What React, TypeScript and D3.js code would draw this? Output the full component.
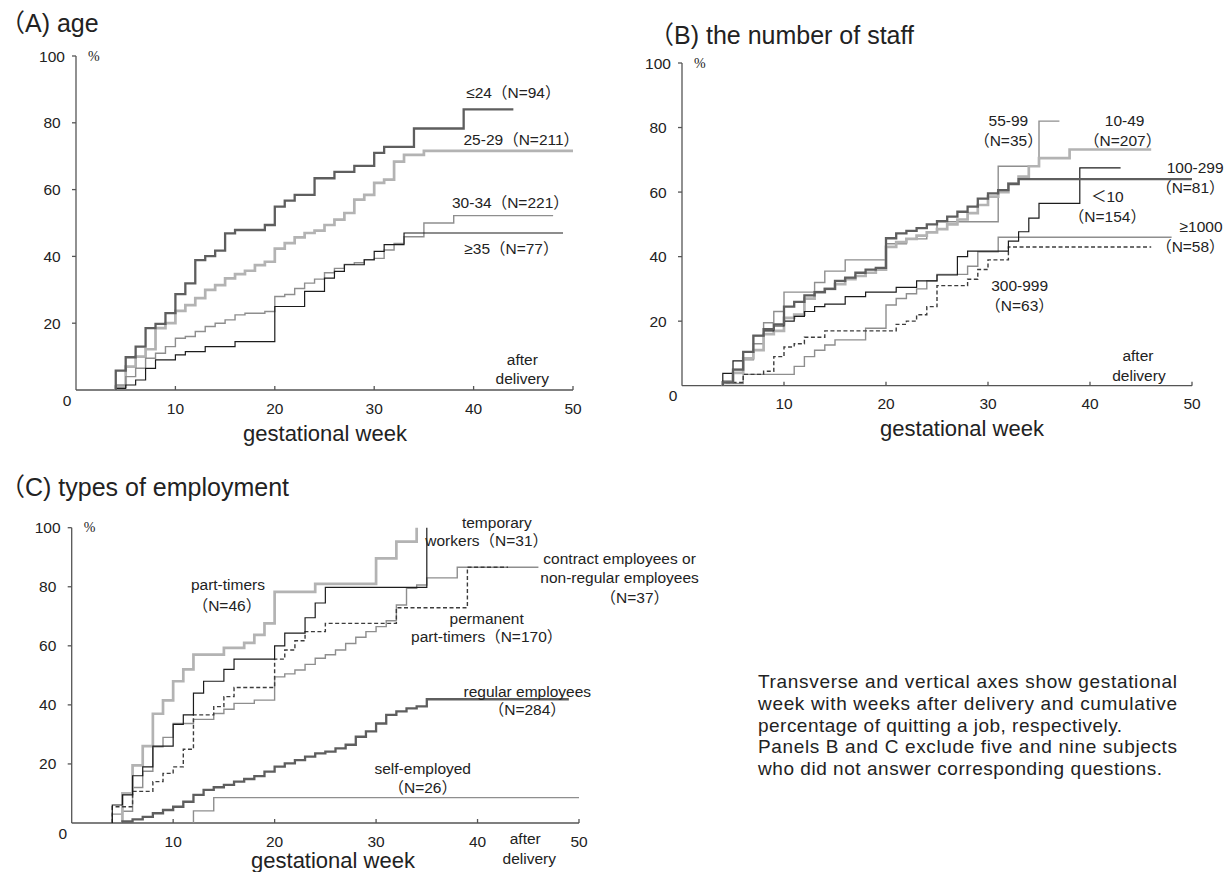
import React from 'react'
import * as d3 from 'd3'

// ---- data (week, cumulative %) : value jumps to % at that week ----
const ageLe24 = [[4, 5.8], [5, 9.8], [6, 13], [7, 18.5], [8, 19.8], [9, 23], [10, 28.7], [11, 31.9], [12, 38.9], [13, 40.1], [14, 41.7], [15, 46.9], [16, 47.9], [19, 49.4], [20, 54.9], [21, 56.7], [22, 58.4], [24, 63.4], [26, 65.3], [28, 67.1], [30, 71], [31, 72.8], [34, 78.3], [39, 84], [44, 84]]
const age25to29 = [[4, 1], [5, 7], [6, 10], [7, 12.2], [8, 18.5], [9, 20], [10, 23.7], [11, 25.4], [12, 27.5], [13, 30], [14, 31.4], [15, 33.4], [16, 34.7], [17, 35.7], [18, 37.4], [19, 38.4], [20, 42.3], [21, 44], [22, 45.7], [23, 47], [24, 47.7], [25, 49.4], [26, 51], [27, 53], [28, 57], [29, 58.4], [30, 62], [31, 63], [32, 68.4], [33, 70.4], [35, 71.6], [50, 71.6]]
const age30to34 = [[4, 1.5], [5, 4], [6, 6.5], [7, 9.5], [8, 11], [9, 13], [10, 15.5], [11, 16], [12, 17.5], [13, 19], [14, 20], [15, 21], [16, 22.5], [17, 23], [19, 23.5], [20, 28], [21, 28.6], [22, 30.4], [23, 32], [24, 33.2], [25, 35.1], [26, 36.4], [27, 37.6], [28, 38.1], [29, 39], [30, 39.4], [31, 41.9], [32, 43.9], [33, 45.9], [35, 50], [38, 52.2], [48, 52.2]]
const ageGe35 = [[4, 0.5], [5, 1.5], [6, 3], [7, 6.5], [8, 9], [10, 10.5], [11, 11.5], [13, 13], [16, 14.5], [20, 25], [23, 29.5], [25, 33.5], [26, 35.5], [27, 37.5], [29, 39], [30, 41.5], [31, 43.5], [33, 47], [49, 47]]

const staff55to99 = [[4, 1.5], [5, 5], [6, 8], [7, 13], [8, 19.5], [9, 23], [10, 29], [13, 32], [14, 35.5], [16, 39], [20, 44], [22, 45.5], [24, 47.5], [25, 50.8], [31, 68], [35, 82], [37, 82]]
const staff10to49 = [[4, 1], [5, 4], [6, 8.5], [7, 11], [8, 16], [9, 17], [10, 21], [11, 22], [12, 27], [13, 29], [14, 30], [15, 31.5], [16, 33], [17, 34], [18, 35], [19, 36], [20, 43], [21, 44.5], [22, 45.5], [23, 46.5], [24, 47.5], [25, 48.5], [26, 50], [27, 51.5], [28, 53.5], [29, 56], [30, 58.6], [31, 60], [32, 62.7], [33, 64.8], [34, 68], [35, 70.5], [38, 73.2], [46, 73.2]]
const staff100to299 = [[4, 1], [5, 5], [6, 10.5], [7, 15.5], [8, 17.5], [9, 19], [10, 24.5], [11, 26], [12, 28], [13, 29], [14, 30], [15, 32.5], [16, 33.5], [17, 35], [18, 36], [19, 36.5], [20, 45.7], [21, 47.2], [22, 48], [23, 48.8], [24, 50], [25, 51], [26, 52.4], [27, 53.9], [28, 55.5], [29, 58], [30, 59.6], [31, 60.6], [32, 62.5], [33, 64], [50, 64]]
const staffLt10 = [[4, 3.8], [5, 7.7], [6, 10.5], [7, 15.5], [8, 17], [9, 18.5], [10, 20], [11, 21.5], [12, 23], [13, 24.5], [14, 25.3], [16, 27.6], [18, 29], [21, 30.5], [23, 32.5], [25, 34.3], [27, 40], [28, 41.7], [32, 44.8], [33, 47.7], [34, 51.9], [35, 56.5], [39, 67.5], [43, 67.5]]
const staffGe1000 = [[4, 0.7], [6, 3.5], [11, 6], [12, 9], [13, 11], [14, 12.6], [15, 14.2], [18, 17.8], [20, 25], [21, 27], [22, 28.5], [23, 30], [24, 32.5], [25, 34.5], [28, 37], [29, 41.5], [31, 46], [48, 46]]
const staff300to999 = [[4, 1], [6, 3.5], [8, 4.5], [9, 9], [10, 12], [11, 13], [12, 15], [14, 17], [21, 19], [22, 20], [23, 22], [24, 24.5], [25, 31], [28, 33], [29, 36], [30, 39], [32, 43], [46, 43]]

const empPartTimers = [[5, 10], [6, 19.5], [7, 26], [8, 37], [9, 41.5], [10, 48], [11, 52], [12, 57], [15, 59.3], [17, 61], [18, 63.7], [19, 67.6], [20, 78.3], [24, 81], [30, 89.6], [32, 95.3], [34, 100]]
const empTemporary = [[4, 6.1], [5, 9.5], [6, 16], [7, 19], [8, 26], [10, 33.4], [11, 36.6], [12, 44], [13, 48], [15, 52], [16, 55.5], [20, 60], [21, 64.3], [23, 69.5], [24, 74.5], [25, 79.8], [35, 100]]
const empContract = [[4, 3], [5, 4], [6, 12], [7, 17.5], [8, 25.8], [9, 29], [10, 33.7], [12, 35.1], [14, 37.1], [15, 38.5], [16, 40.5], [18, 41.6], [20, 49.5], [21, 50.5], [22, 51.8], [23, 53.7], [24, 55.8], [25, 57], [26, 58.6], [27, 60.8], [28, 62.9], [29, 64.8], [30, 66.5], [31, 68.5], [32, 73.8], [33, 79.5], [34, 80.6], [35, 83], [38, 86.6], [46, 86.6]]
const empPermanentPT = [[4, 5.5], [6, 10.7], [8, 14], [9, 16.8], [10, 19], [11, 25], [12, 36.6], [14, 39.4], [15, 42.8], [16, 45.9], [20, 55.5], [21, 58.6], [22, 61.7], [23, 64.8], [25, 67.6], [32, 72.9], [39, 86.6], [43, 86.6]]
const empRegular = [[5, 0.5], [6, 1.2], [7, 2.1], [8, 3.3], [9, 4.4], [10, 5.5], [11, 7.2], [12, 9.5], [13, 11.2], [14, 12.1], [15, 12.9], [16, 14], [17, 14.9], [18, 15.9], [19, 17.4], [20, 19.1], [21, 20.2], [22, 21.3], [23, 22.5], [24, 23.6], [25, 24.2], [26, 25.3], [27, 26.5], [28, 29.2], [29, 31], [30, 33.7], [31, 36.6], [32, 37.8], [33, 38.8], [34, 39.5], [35, 41.9], [49, 41.9]]
const empSelf = [[12, 4.1], [14, 8.6], [50, 8.6]]

const weekTicks = [10, 20, 30, 40, 50]
const pctTicks = [20, 40, 60, 80, 100]

const noteLines = [
  'Transverse and vertical axes show gestational',
  'week with weeks after delivery and cumulative',
  'percentage of quitting a job, respectively.',
  'Panels B and C exclude five and nine subjects',
  'who did not answer corresponding questions.',
]
const noteWidths = [419, 419, 364, 419, 404]

// ---- styles ----
const FONT = "'Liberation Sans', Arial, 'Noto Sans CJK JP', sans-serif"
const STYLES: Record<string, { stroke: string; width: number; dash?: string }> = {
  dark: { stroke: '#5e5e5e', width: 2.3 },
  light: { stroke: '#b3b3b3', width: 2.7 },
  mid: { stroke: '#8e8e8e', width: 1.4 },
  black: { stroke: '#1c1c1c', width: 1.2 },
  dashed: { stroke: '#3c3c3c', width: 1.4, dash: '4 2.5' },
}

type Series = { data: number[][]; style: string }
type Label = { text: string; week: number; pct: number; anchor?: string }

interface PanelProps {
  title: string
  titleX: number
  titleY: number
  left: number
  right: number
  top: number
  bottom: number
  xTitleX: number
  xTitleY: number
  series: Series[]
  labels: Label[]
}

function Panel(p: PanelProps) {
  const x = d3.scaleLinear().domain([0, 50]).range([p.left, p.right])
  const y = d3.scaleLinear().domain([0, 100]).range([p.bottom, p.top])
  const line = d3
    .line<number[]>()
    .x(d => x(d[0]))
    .y(d => y(d[1]))
    .curve(d3.curveStepAfter)

  return (
    <g fontFamily={FONT} fill="#222">
      <text x={p.titleX} y={p.titleY} fontSize={25} dominantBaseline="central">{p.title}</text>

      {/* axes */}
      <g stroke="#555" strokeWidth={1.3} fill="none">
        <line x1={x(0)} x2={x(0)} y1={y(0)} y2={y(100)} />
        <line x1={x(0)} x2={x(50)} y1={y(0)} y2={y(0)} />
        {pctTicks.map(t => <line key={t} x1={x(0) - 4} x2={x(0)} y1={y(t)} y2={y(t)} />)}
        {weekTicks.map(t => <line key={t} x1={x(t)} x2={x(t)} y1={y(0)} y2={y(0) - 4} />)}
      </g>
      <g fontSize={15.5} textAnchor="middle" dominantBaseline="central">
        {pctTicks.map(t => <text key={t} x={x(0) - 24} y={y(t)}>{t}</text>)}
        {weekTicks.map(t => <text key={t} x={x(t)} y={y(0) + 18}>{t}</text>)}
        <text x={x(0) - 9} y={y(0) + 10}>0</text>
      </g>
      <text x={x(0) + 12} y={y(100)} fontSize={14} fontFamily="'Liberation Serif', serif" dominantBaseline="central">%</text>
      <text x={p.xTitleX} y={p.xTitleY} fontSize={22} textAnchor="middle" dominantBaseline="central">gestational week</text>

      {/* step curves */}
      {p.series.map((s, i) => {
        const st = STYLES[s.style]
        const pts = [[s.data[0][0], 0], ...s.data]
        return (
          <path key={i} d={line(pts) || ''} fill="none" stroke={st.stroke} strokeWidth={st.width}
            strokeDasharray={st.dash} />
        )
      })}

      <g fontSize={15.5} dominantBaseline="central">
        {p.labels.map((l, i) => (
          <text key={i} x={x(l.week)} y={y(l.pct)} textAnchor={l.anchor || 'middle'}>{l.text}</text>
        ))}
      </g>
    </g>
  )
}

export default function App() {
  return (
    <svg width={1226} height={872} style={{ position: 'absolute', left: 0, top: 0, background: '#fff' }}>
      <Panel
        title="（A) age" titleX={0} titleY={23}
        left={76} right={573} top={56} bottom={390}
        xTitleX={325} xTitleY={433}
        series={[
          { data: age25to29, style: 'light' },
          { data: age30to34, style: 'mid' },
          { data: ageGe35, style: 'black' },
          { data: ageLe24, style: 'dark' },
        ]}
        labels={[
          { text: '≤24（N=94）', week: 44, pct: 89.2 },
          { text: '25-29（N=211）', week: 44.8, pct: 74.9 },
          { text: '30-34（N=221）', week: 43.7, pct: 56 },
          { text: '≥35（N=77）', week: 43.8, pct: 42.5 },
          { text: 'after', week: 44.9, pct: 9 },
          { text: 'delivery', week: 44.9, pct: 3.3 },
        ]}
      />
      <Panel
        title="（B) the number of staff" titleX={649} titleY={35}
        left={682} right={1192} top={63} bottom={385.7}
        xTitleX={962} xTitleY={428}
        series={[
          { data: staff55to99, style: 'mid' },
          { data: staffGe1000, style: 'mid' },
          { data: staff10to49, style: 'light' },
          { data: staff300to999, style: 'dashed' },
          { data: staffLt10, style: 'black' },
          { data: staff100to299, style: 'dark' },
        ]}
        labels={[
          { text: '55-99', week: 32, pct: 82.3 },
          { text: '（N=35）', week: 32, pct: 76.1 },
          { text: '10-49', week: 43.4, pct: 82.3 },
          { text: '（N=207）', week: 43.2, pct: 76.1 },
          { text: '100-299', week: 53.1, pct: 67.5, anchor: 'end' },
          { text: '（N=81）', week: 53.2, pct: 61.3, anchor: 'end' },
          { text: '＜10', week: 41.7, pct: 58.5 },
          { text: '（N=154）', week: 41.7, pct: 52.3 },
          { text: '≥1000', week: 53.0, pct: 49.2, anchor: 'end' },
          { text: '（N=58）', week: 53.2, pct: 43, anchor: 'end' },
          { text: '300-999', week: 33.1, pct: 31.1 },
          { text: '（N=63）', week: 33.1, pct: 25 },
          { text: 'after', week: 44.7, pct: 9.5 },
          { text: 'delivery', week: 44.8, pct: 3.3 },
        ]}
      />
      <Panel
        title="（C) types of employment" titleX={0} titleY={487}
        left={71.7} right={579} top={527.7} bottom={823}
        xTitleX={333} xTitleY={860}
        series={[
          { data: empSelf, style: 'mid' },
          { data: empContract, style: 'mid' },
          { data: empPartTimers, style: 'light' },
          { data: empPermanentPT, style: 'dashed' },
          { data: empTemporary, style: 'black' },
          { data: empRegular, style: 'dark' },
        ]}
        labels={[
          { text: 'part-timers', week: 15.4, pct: 80.6 },
          { text: '（N=46）', week: 15.3, pct: 73.8 },
          { text: 'temporary', week: 41.9, pct: 101.9 },
          { text: 'workers（N=31）', week: 40.9, pct: 95.8 },
          { text: 'contract employees or', week: 54, pct: 89.7 },
          { text: 'non-regular employees', week: 54, pct: 83 },
          { text: '（N=37）', week: 55.5, pct: 76.5 },
          { text: 'permanent', week: 40.9, pct: 69.4 },
          { text: 'part-timers（N=170）', week: 40.9, pct: 63 },
          { text: 'regular employees', week: 44.9, pct: 44.7 },
          { text: '（N=284）', week: 44.9, pct: 38.3 },
          { text: 'self-employed', week: 34.6, pct: 18.6 },
          { text: '（N=26）', week: 34.6, pct: 11.9 },
          { text: 'after', week: 44.7, pct: -5.1 },
          { text: 'delivery', week: 45.1, pct: -11.9 },
        ]}
      />
      <g fontFamily={FONT} fontSize={19} fill="#222" dominantBaseline="central">
        {noteLines.map((t, i) => (
          <text key={i} x={758} y={681.7 + i * 21.65} textLength={noteWidths[i]} lengthAdjust="spacing">{t}</text>
        ))}
      </g>
    </svg>
  )
}
